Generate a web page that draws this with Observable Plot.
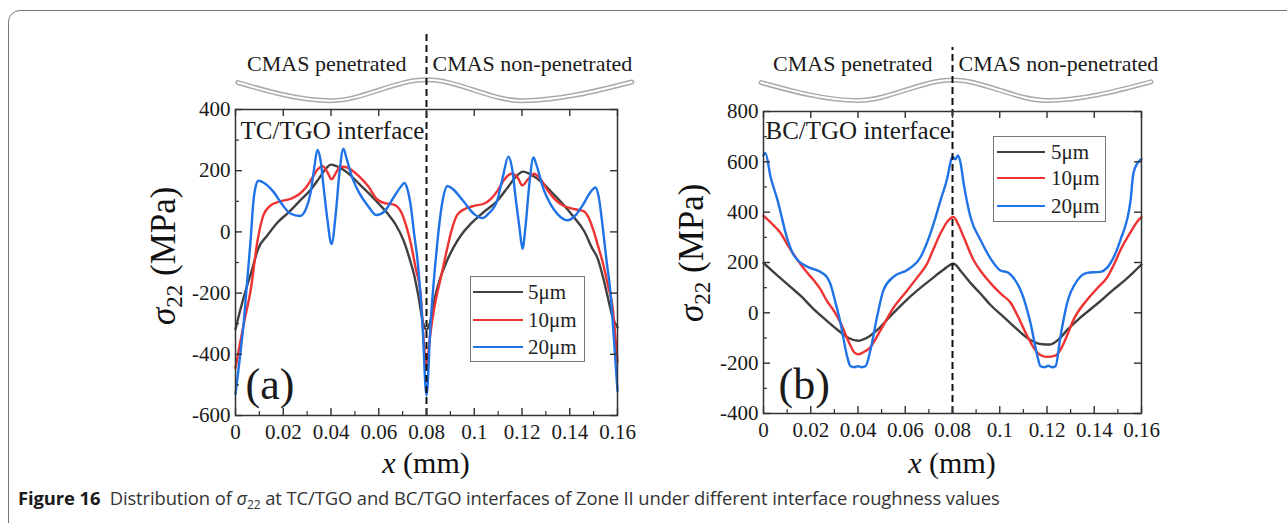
<!DOCTYPE html>
<html><head><meta charset="utf-8">
<script src="https://cdn.jsdelivr.net/npm/d3@7"></script>
<script src="https://cdn.jsdelivr.net/npm/@observablehq/plot@0.6"></script>
<style>
html,body{margin:0;padding:0;background:#fff;}
#root{position:relative;width:1287px;height:523px;overflow:hidden;background:#fff;}
.border{position:absolute;left:8px;top:10px;width:1400px;height:700px;border:1px solid #777;border-top-left-radius:12px;box-sizing:border-box;}
.legend{position:absolute;border:1px solid #777;background:#fff;font-family:"Liberation Serif","Times New Roman",serif;font-size:21px;color:#222;box-sizing:border-box;}
.caption{position:absolute;left:18px;top:486px;font-family:"Open Sans",sans-serif;font-size:18.4px;color:#333;white-space:nowrap;line-height:24px;letter-spacing:-0.1px;}
.caption sub{font-size:12px;vertical-align:-4px;line-height:0;}
</style></head><body><div id="root"></div>
<script>
// ---------- data ----------
const seriesNames = ["5μm", "10μm", "20μm"];
const seriesColors = ["#404040", "#ee3333", "#1f73e6"];
const xTicks = [0, 0.02, 0.04, 0.06, 0.08, 0.1, 0.12, 0.14, 0.16];
const xTickLabels = ["0", "0.02", "0.04", "0.06", "0.08", "0.1", "0.12", "0.14", "0.16"];
const xMinor = [0.01, 0.03, 0.05, 0.07, 0.09, 0.11, 0.13, 0.15];
const yTicksA = [-600, -400, -200, 0, 200, 400];
const yTickLabelsA = ["-600", "-400", "-200", "0", "200", "400"];
const yMinorA = [-500, -300, -100, 100, 300];
const yTicksB = [-400, -200, 0, 200, 400, 600, 800];
const yTickLabelsB = ["-400", "-200", "0", "200", "400", "600", "800"];
const yMinorB = [-300, -100, 100, 300, 500, 700];
const boundaryX = 0.08;

// panel (a) TC/TGO interface
const a5 = [[0,-318],[0.002,-255],[0.0045,-185],[0.0065,-135],[0.0095,-55],[0.0135,-10],[0.0175,30],[0.022,62],[0.027,102],[0.0315,138],[0.035,175],[0.038,208],[0.040,220],[0.042,216],[0.047,193],[0.052,155],[0.056,125],[0.06,92],[0.0638,59],[0.067,25],[0.0705,-30],[0.073,-90],[0.0748,-140],[0.0765,-205],[0.0785,-295],[0.08,-320],[0.0815,-295],[0.0835,-215],[0.0858,-150],[0.088,-105],[0.0912,-52],[0.095,-5],[0.0985,26],[0.104,65],[0.1097,102],[0.114,145],[0.118,185],[0.1205,197],[0.123,190],[0.129,157],[0.133,125],[0.137,92],[0.1415,50],[0.146,3],[0.1495,-55],[0.1516,-85],[0.154,-150],[0.156,-216],[0.158,-280],[0.16,-312]];
const a10 = [[0,-445],[0.002,-360],[0.004,-280],[0.0063,-193],[0.0092,-30],[0.0117,55],[0.0145,85],[0.018,98],[0.023,108],[0.0265,122],[0.0295,145],[0.032,175],[0.0345,205],[0.0365,215],[0.0385,195],[0.0402,172],[0.042,192],[0.0438,213],[0.046,212],[0.049,200],[0.052,180],[0.0555,150],[0.0595,105],[0.063,93],[0.066,90],[0.069,70],[0.0715,20],[0.0735,-40],[0.0755,-120],[0.0775,-200],[0.079,-370],[0.08,-445],[0.0812,-360],[0.083,-260],[0.0845,-200],[0.086,-150],[0.0885,-60],[0.0905,5],[0.0928,55],[0.096,75],[0.1,85],[0.104,92],[0.107,108],[0.1097,134],[0.1125,170],[0.1155,190],[0.118,180],[0.1202,152],[0.1225,172],[0.125,190],[0.1275,175],[0.1307,136],[0.134,105],[0.137,87],[0.1415,75],[0.1458,68],[0.148,45],[0.15,3],[0.152,-50],[0.154,-105],[0.156,-175],[0.158,-250],[0.1595,-380],[0.16,-425]];
const a20 = [[0,-530],[0.0017,-420],[0.0034,-300],[0.005,-150],[0.0063,-30],[0.0075,100],[0.0085,150],[0.0096,167],[0.012,160],[0.016,130],[0.0195,90],[0.023,60],[0.027,52],[0.0295,75],[0.0315,130],[0.033,210],[0.0343,268],[0.0355,240],[0.037,140],[0.0385,40],[0.0402,-40],[0.042,60],[0.0435,190],[0.0452,272],[0.0465,240],[0.049,175],[0.052,125],[0.0555,85],[0.059,55],[0.0625,68],[0.066,110],[0.0695,150],[0.0708,160],[0.072,140],[0.0735,80],[0.0748,-5],[0.0762,-90],[0.0783,-300],[0.08,-535],[0.0817,-300],[0.0835,-120],[0.0846,-30],[0.0867,100],[0.0888,150],[0.091,140],[0.0955,100],[0.1,58],[0.1034,45],[0.106,60],[0.1097,105],[0.112,180],[0.1143,246],[0.1158,210],[0.1175,100],[0.119,10],[0.1202,-55],[0.1215,20],[0.123,150],[0.1248,243],[0.126,220],[0.129,140],[0.132,90],[0.1349,58],[0.139,38],[0.1425,55],[0.1458,92],[0.1485,128],[0.1508,145],[0.152,120],[0.154,3],[0.1555,-100],[0.157,-193],[0.1585,-350],[0.16,-520]];

// panel (b) BC/TGO interface
const b5 = [[0,198],[0.0057,150],[0.0114,103],[0.016,65],[0.0212,15],[0.026,-25],[0.0313,-67],[0.036,-100],[0.040,-111],[0.044,-98],[0.0483,-67],[0.054,-10],[0.0593,40],[0.065,88],[0.0707,131],[0.076,170],[0.0804,195],[0.084,160],[0.0876,119],[0.092,75],[0.096,32],[0.1015,-15],[0.1075,-67],[0.113,-108],[0.118,-125],[0.121,-126],[0.125,-105],[0.1287,-67],[0.134,-20],[0.1397,24],[0.144,58],[0.148,91],[0.153,130],[0.1565,160],[0.16,192]];
const b10 = [[0,385],[0.0035,355],[0.0072,317],[0.0105,265],[0.0144,210],[0.018,165],[0.0212,130],[0.024,95],[0.027,45],[0.03,5],[0.0326,-40],[0.0368,-130],[0.0385,-158],[0.0402,-165],[0.042,-158],[0.045,-139],[0.0495,-70],[0.055,20],[0.061,91],[0.065,140],[0.0694,198],[0.072,255],[0.075,317],[0.078,365],[0.0804,381],[0.0825,350],[0.0847,302],[0.0889,210],[0.092,165],[0.096,119],[0.1005,75],[0.1046,40],[0.108,-20],[0.1118,-95],[0.116,-159],[0.12,-175],[0.1235,-170],[0.1257,-147],[0.1285,-90],[0.1312,-28],[0.137,52],[0.141,95],[0.1456,143],[0.1485,195],[0.1511,250],[0.155,315],[0.1596,377],[0.16,380]];
const b20 = [[0,625],[0.0008,635],[0.003,540],[0.0059,449],[0.0102,290],[0.0125,235],[0.0144,210],[0.0186,183],[0.024,163],[0.027,140],[0.0285,110],[0.0298,65],[0.0326,-40],[0.0354,-173],[0.0368,-212],[0.0385,-216],[0.040,-212],[0.0415,-216],[0.0432,-212],[0.0453,-147],[0.0481,-15],[0.0508,91],[0.055,143],[0.061,171],[0.0665,222],[0.0707,317],[0.075,449],[0.0779,540],[0.0792,600],[0.08,620],[0.0812,610],[0.0823,625],[0.0834,596],[0.0847,516],[0.0876,381],[0.0918,290],[0.0974,198],[0.1003,168],[0.1035,160],[0.1065,130],[0.1088,91],[0.113,-40],[0.116,-175],[0.1172,-212],[0.119,-216],[0.1205,-210],[0.1222,-216],[0.1236,-212],[0.1257,-94],[0.1285,38],[0.133,131],[0.137,159],[0.1427,163],[0.1469,198],[0.1511,290],[0.1554,449],[0.1566,556],[0.1596,608],[0.16,610]];

// decorative interface wave above each panel (peaks and troughs)
const waveA = [[0.001,488],[0.04,429],[0.08,497],[0.12,429],[0.166,490]];
const waveB = [[-0.001,915],[0.04,844],[0.08,925],[0.12,844],[0.164,918]];

// ---------- drawing ----------
const root = d3.select("#root");
root.append("div").attr("class", "border");

const serif = "'Liberation Serif','Times New Roman',serif";
const axisStroke = "#333";

function buildPanel(p) {
  const fw = p.width - p.ml - p.mr, fh = p.height - p.mt - p.mb;
  const series = [p.s5, p.s10, p.s20];
  const marks = [
    Plot.line(p.wave, {x: d => d[0], y: d => d[1], curve: "monotone-x", stroke: "#a9a9a9", strokeWidth: 5}),
    Plot.line(p.wave, {x: d => d[0], y: d => d[1], curve: "monotone-x", stroke: "#fff", strokeWidth: 2}),
    Plot.text(["CMAS penetrated"], {x: () => boundaryX, frameAnchor: "top", lineAnchor: "middle", dy: p.cmasDy, dx: -20, textAnchor: "end", fontSize: 22}),
    Plot.text(["CMAS non-penetrated"], {x: () => boundaryX, frameAnchor: "top", lineAnchor: "middle", dy: p.cmasDy, dx: 6, textAnchor: "start", fontSize: 22}),
    ...series.map((s, k) => Plot.line(s, {x: d => d[0], y: d => d[1], stroke: seriesColors[k], strokeWidth: 2.4, curve: "monotone-x"})),
    Plot.ruleX([boundaryX], {y1: p.yDomain[0], y2: p.dashTop, stroke: "#111", strokeWidth: 2, strokeDasharray: "7,4"}),
    Plot.frame({stroke: axisStroke, strokeWidth: 1.5}),
    Plot.tickX(xTicks, {x: d => d, insetTop: fh - 7, stroke: axisStroke, strokeWidth: 1.4}),
    Plot.tickX(xMinor, {x: d => d, insetTop: fh - 4, stroke: axisStroke, strokeWidth: 1.2}),
    Plot.tickX(xTicks, {x: d => d, insetBottom: fh - 7, stroke: axisStroke, strokeWidth: 1.4}),
    Plot.tickY(p.yTicks, {y: d => d, insetRight: fw - 7, stroke: axisStroke, strokeWidth: 1.4}),
    Plot.tickY(p.yMinor, {y: d => d, insetRight: fw - 4, stroke: axisStroke, strokeWidth: 1.2}),
    Plot.tickY(p.yTicks, {y: d => d, insetLeft: fw - 7, stroke: axisStroke, strokeWidth: 1.4}),
    Plot.axisX(xTicks, {tickSize: 0, tickPadding: 9, tickFormat: d => xTickLabels[xTicks.indexOf(d)], label: null}),
    Plot.axisY(p.yTicks, {tickSize: 0, tickPadding: 5, tickFormat: d => p.yLabels[p.yTicks.indexOf(d)], label: null}),
    Plot.text([p.ifaceText], {frameAnchor: "top-left", lineAnchor: "middle", dx: p.ifaceDx, dy: p.ifaceDy, textAnchor: "start", fontSize: 25}),
    Plot.text([p.letter], {frameAnchor: "bottom-left", lineAnchor: "middle", dx: p.letterDx, dy: p.letterDy, textAnchor: "start", fontSize: 44})
  ];
  const svg = Plot.plot({
    width: p.width, height: p.height,
    marginLeft: p.ml, marginRight: p.mr, marginTop: p.mt, marginBottom: p.mb,
    x: {domain: [0, 0.16]},
    y: {domain: p.yDomain},
    style: {fontFamily: serif, fontSize: "21px", color: "#1a1a1a", background: "transparent", overflow: "visible"},
    marks
  });
  d3.select(svg).style("position", "absolute").style("left", p.left + "px").style("top", p.top + "px");
  root.node().appendChild(svg);
}

buildPanel({left: 100, top: 0, width: 560, height: 480, ml: 135, mr: 43, mt: 109, mb: 65,
  yDomain: [-600, 400], yTicks: yTicksA, yLabels: yTickLabelsA, yMinor: yMinorA,
  s5: a5, s10: a10, s20: a20, wave: waveA, dashTop: 658, cmasDy: -46,
  ifaceText: "TC/TGO interface", ifaceDx: 5, ifaceDy: 21, letter: "(a)", letterDx: 10, letterDy: -31});

buildPanel({left: 660, top: 0, width: 520, height: 480, ml: 103, mr: 39, mt: 111, mb: 67,
  yDomain: [-400, 800], yTicks: yTicksB, yLabels: yTickLabelsB, yMinor: yMinorB,
  s5: b5, s10: b10, s20: b20, wave: waveB, dashTop: 1054, cmasDy: -48,
  ifaceText: "BC/TGO interface", ifaceDx: 2, ifaceDy: 19, letter: "(b)", letterDx: 15, letterDy: -29});

// legends
function legend(p) {
  const box = root.append("div").attr("class", "legend")
    .style("left", p.left + "px").style("top", p.top + "px")
    .style("width", p.w + "px").style("height", p.h + "px");
  seriesNames.forEach((name, k) => {
    const cy = p.rowY[k];
    box.append("div").style("position", "absolute").style("left", p.lineX + "px")
      .style("top", (cy - 1.25) + "px").style("width", p.lineLen + "px").style("height", "2.5px")
      .style("background", seriesColors[k]);
    box.append("div").style("position", "absolute").style("left", p.textX + "px")
      .style("top", (cy - 12) + "px").style("line-height", "24px").text(name);
  });
}
legend({left: 470, top: 276, w: 115, h: 86, lineX: 2, lineLen: 50, textX: 57, rowY: [15, 43, 70]});
legend({left: 993, top: 136, w: 113, h: 86, lineX: 3, lineLen: 48, textX: 57, rowY: [15, 41, 69]});

// axis titles
const ov = root.append("svg").attr("width", 1287).attr("height", 523)
  .style("position", "absolute").style("left", "0px").style("top", "0px")
  .style("font-family", serif).attr("fill", "#111");
function yTitle(x, y) {
  const t = ov.append("text").attr("transform", `translate(${x},${y}) rotate(-90)`).attr("font-size", 35);
  t.append("tspan").attr("font-style", "italic").text("σ");
  t.append("tspan").attr("font-size", 23).attr("dy", 7).text("22");
  t.append("tspan").attr("dy", -7).text(" (MPa)");
}
function xTitle(x, y) {
  const t = ov.append("text").attr("x", x).attr("y", y).attr("text-anchor", "middle").attr("font-size", 30);
  t.append("tspan").attr("font-style", "italic").text("x");
  t.append("tspan").text(" (mm)");
}
yTitle(175, 325);
yTitle(703, 322);
xTitle(426, 473);
xTitle(952, 473);

// caption
root.append("div").attr("class", "caption")
  .html('<span style="font-weight:700;color:#1a1a1a">Figure 16</span>&nbsp; Distribution of <i>σ</i><sub>22</sub> at TC/TGO and BC/TGO interfaces of Zone II under different interface roughness values');
</script></body></html>
